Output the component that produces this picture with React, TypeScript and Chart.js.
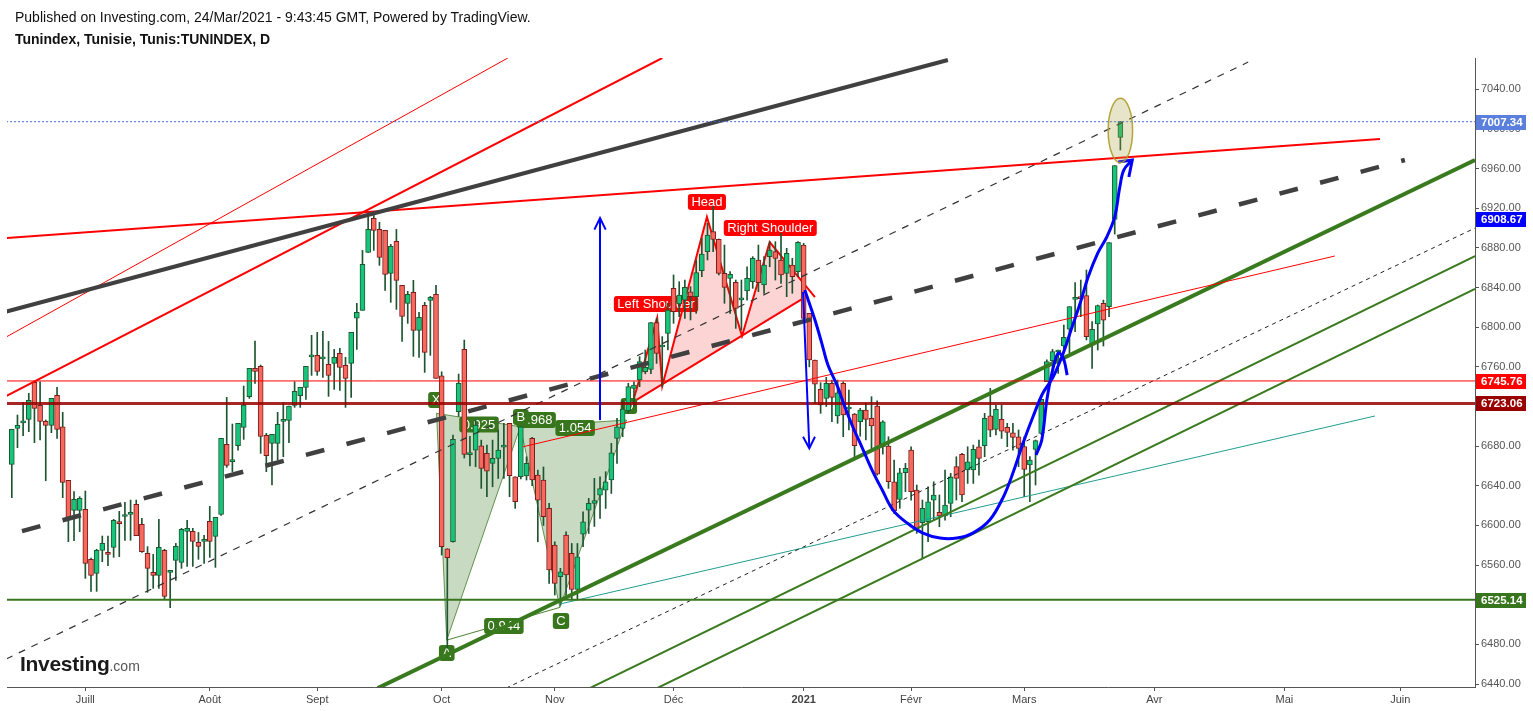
import React, { useEffect, useRef } from 'react';
import { Chart, registerables } from 'chart.js';
Chart.register(...registerables);

const FONT = 'Arial, "Liberation Sans", sans-serif';

// ---- Candles (bar index, daily) ----
const OPEN = [
  6661.6, 6698, 6703.5, 6707, 6744.4, 6721.2, 6705, 6701, 6731.2, 6699.6,
  6645.5, 6615.2, 6615.2, 6616.2, 6565.8, 6551.7, 6574.9, 6572.5, 6577.9, 6603.4,
  6609, 6611.2, 6621.3, 6601.1, 6571.8, 6552.7, 6549.6, 6574.9, 6552.7, 6564.8,
  6562.8, 6594, 6594, 6583, 6583.9, 6604.1, 6589, 6611.2, 6681.8, 6664.4,
  6680.5, 6699, 6729.9, 6758.5, 6760.5, 6690.9, 6682.8, 6682.8, 6705, 6706,
  6721.1, 6730.9, 6739.3, 6770, 6771.6, 6768, 6762.5, 6763.5, 6773.6, 6761.5,
  6763.5, 6809, 6817, 6875.5, 6909.8, 6898.7, 6897.7, 6854.3, 6886.6, 6842.2,
  6824.1, 6835.2, 6796.8, 6822, 6827.1, 6833.1, 6751, 6576.5, 6583.5, 6714.7,
  6777.6, 6671.5, 6676, 6680.4, 6672.7, 6662.6, 6667.6, 6679, 6702.9, 6649.1,
  6649.1, 6650, 6687.8, 6650.8, 6645.8, 6617.2, 6580.2, 6548.3, 6590.3, 6571.8,
  6535.4, 6591.3, 6615.5, 6622.2, 6630.6, 6635.6, 6645.8, 6687.8, 6697.9, 6715.8,
  6738.3, 6746.7, 6755.1, 6757.5, 6804.6, 6780, 6793.8, 6839.2, 6823.4, 6827.4,
  6835.8, 6830.8, 6857, 6876.2, 6896.4, 6888.6, 6854.3, 6849.3, 6845.3, 6827.5,
  6836.5, 6845.9, 6867.8, 6842.6, 6871.2, 6876.2, 6867.8, 6854.3, 6862.8, 6856,
  6882.9, 6814, 6766.9, 6737.3, 6728.2, 6743.3, 6710.4, 6743.3, 6717.5, 6712.4,
  6704.6, 6716.4, 6708, 6720.5, 6679.4, 6680.1, 6644.1, 6626.3, 6653.2, 6676.1,
  6635.7, 6602.7, 6603.7, 6625.6, 6613.2, 6609.5, 6622.2, 6659.3, 6671.7, 6655.9,
  6655.9, 6679.4, 6680.4, 6710.7, 6696.9, 6707, 6699, 6693.5, 6689.5, 6679.5,
  6661, 6676.8, 6692.9, 6745, 6766.2, 6775, 6781, 6797.9, 6828.1, 6830.8,
  6831.8, 6782, 6803.2, 6824.1, 6820.7, 6908.8, 6991.5,
];
const HIGH = [
  6697, 6711.4, 6724.2, 6733.3, 6745.7, 6745, 6706.4, 6728.2, 6739.3, 6714.1,
  6645.5, 6634.1, 6629, 6634.7, 6567, 6576, 6589.3, 6589.3, 6606.1, 6614.2,
  6623.3, 6625.6, 6625.6, 6607.1, 6578.6, 6570.8, 6606.1, 6576, 6553.7, 6581.9,
  6597.1, 6605.1, 6597.1, 6593, 6590, 6619.3, 6608.2, 6688, 6729.2, 6702.3,
  6703, 6740.6, 6758.5, 6786, 6761.8, 6692.9, 6691.9, 6714.1, 6723.8, 6720.5,
  6745, 6739.3, 6760.5, 6791.8, 6794.8, 6795.8, 6785.7, 6777.6, 6778.6, 6769.6,
  6794.8, 6824.1, 6877.5, 6914.8, 6912.8, 6905.8, 6897.7, 6883.6, 6898.7, 6842.2,
  6836.2, 6847.3, 6815, 6825.1, 6831.1, 6842.2, 6755, 6576.5, 6691.2, 6752.7,
  6787, 6690, 6706.3, 6686.1, 6681.1, 6686.1, 6696.2, 6703, 6703, 6649.1,
  6699.6, 6669.3, 6688.8, 6655.8, 6659, 6622.2, 6583.5, 6556.7, 6593.6, 6581.8,
  6581.8, 6613.8, 6627.3, 6647.5, 6649.1, 6654.2, 6682.8, 6708, 6726.5, 6743.4,
  6745, 6770.3, 6777, 6804.6, 6809, 6790.5, 6824.1, 6852.7, 6845.9, 6847.6,
  6840.9, 6867.8, 6889.6, 6904.8, 6921.6, 6889, 6882.9, 6856, 6847.6, 6847.6,
  6861, 6871.2, 6882.9, 6871.2, 6886.3, 6886.3, 6894.7, 6879.6, 6869.5, 6886.3,
  6884.6, 6814, 6766.9, 6744, 6749.4, 6746.7, 6746.7, 6745, 6736.6, 6713,
  6718.1, 6723.1, 6729.9, 6725.8, 6705.7, 6689.5, 6666, 6657.6, 6662.6, 6679.4,
  6640.8, 6625.6, 6639, 6644.1, 6630.7, 6655.9, 6652.5, 6669.3, 6672.7, 6679.4,
  6681.1, 6686.2, 6713.1, 6738.3, 6721.5, 6721.5, 6703, 6703, 6696.3, 6689.5,
  6669.4, 6686.2, 6727.2, 6767, 6777.6, 6777, 6802.2, 6820.7, 6844.9, 6847.6,
  6857.7, 6805.6, 6822.4, 6827.4, 6885.3, 6963, 7007.4,
];
const LOW = [
  6628, 6678.4, 6690.5, 6694.6, 6683.5, 6686.2, 6645.1, 6693.6, 6687.9, 6628,
  6583.6, 6584.6, 6593.7, 6546.6, 6533.5, 6533.5, 6563.4, 6559.4, 6567.8, 6568.5,
  6585, 6585, 6589.7, 6572.8, 6532.5, 6536.5, 6536.5, 6525.1, 6517, 6544.6,
  6556.7, 6558.7, 6558.7, 6565.8, 6561.7, 6567.8, 6557.7, 6610, 6658.6, 6654.2,
  6676, 6686.8, 6728.2, 6743.3, 6672.7, 6654.2, 6641, 6666, 6669.3, 6683.5,
  6719.1, 6719.1, 6727.2, 6751.4, 6751.4, 6749.4, 6730.2, 6737.3, 6736.3, 6719.1,
  6729.2, 6777.6, 6817, 6875.5, 6877.5, 6862.4, 6837.2, 6825.1, 6818, 6785.7,
  6803.9, 6770.6, 6769.6, 6754.4, 6771.6, 6748.4, 6570.1, 6476, 6583, 6710,
  6668, 6660, 6659.2, 6637.4, 6629, 6639, 6647.4, 6647.4, 6629, 6617.2,
  6647, 6645.8, 6640, 6583.5, 6600, 6541.5, 6529.8, 6519.7, 6528.1, 6524.7,
  6524.7, 6578.5, 6591.9, 6599, 6607.1, 6617.2, 6632.3, 6662.6, 6689.5, 6713,
  6720, 6740, 6753, 6753, 6763.5, 6740, 6777, 6803.9, 6810.6, 6808.9,
  6807.3, 6814, 6851, 6867.8, 6876.2, 6852.7, 6824.1, 6814, 6798.8, 6797,
  6827.4, 6839.2, 6835.8, 6834.2, 6861, 6847.6, 6844.2, 6830.8, 6834.2, 6851,
  6807, 6760, 6723.1, 6713.1, 6720, 6704.6, 6703, 6689.5, 6696.3, 6669.3,
  6690, 6686.2, 6676.1, 6650.8, 6672, 6637.4, 6612.2, 6617.2, 6634, 6625.6,
  6592, 6566.8, 6583.6, 6605.4, 6598.7, 6605.4, 6608.8, 6625.6, 6623.9, 6642.4,
  6642.4, 6650.8, 6669.3, 6689.5, 6691.2, 6687.8, 6679.5, 6676, 6659.3, 6629,
  6624, 6640.8, 6692, 6745, 6753.4, 6753.4, 6773.6, 6773.6, 6795.5, 6810.6,
  6787.1, 6758.5, 6777, 6781, 6810.6, 6894, 6978.8,
];
const CLOSE = [
  6696.9, 6701, 6704, 6726.2, 6718.1, 6705, 6701, 6728.2, 6696.9, 6643.5,
  6608.2, 6626.3, 6627.3, 6561.7, 6549.6, 6574.9, 6581.9, 6570.8, 6605.1, 6601.8,
  6609.4, 6613.2, 6589.7, 6573.5, 6556.7, 6549.6, 6577.9, 6528.5, 6553, 6578.9,
  6596.1, 6597.1, 6583.9, 6578.9, 6584.2, 6583.9, 6608.2, 6687.9, 6660.6, 6664.8,
  6703, 6721.5, 6758.5, 6755.4, 6689.9, 6670.3, 6691.9, 6702, 6706.2, 6720.5,
  6735.3, 6739.3, 6760.5, 6770.3, 6755.4, 6768.3, 6751.4, 6769.6, 6759.5, 6748.4,
  6794.8, 6815, 6863.4, 6898.7, 6897.7, 6870.5, 6853.3, 6881.6, 6847.3, 6810.9,
  6833.1, 6796.8, 6809.9, 6774.6, 6830.1, 6748.4, 6578.5, 6567.4, 6686.8, 6743.3,
  6671.7, 6672, 6701.3, 6657.5, 6654.8, 6667.7, 6676, 6680.1, 6650.1, 6623.9,
  6699.6, 6662.6, 6645.8, 6625.6, 6608.8, 6555, 6541.5, 6553.3, 6550, 6535.4,
  6568.4, 6603.7, 6622.2, 6625, 6637.3, 6644.1, 6673.3, 6699.6, 6717.4, 6740,
  6741.7, 6765.2, 6759.5, 6804.6, 6773.6, 6782, 6817.3, 6815.7, 6832.5, 6840.2,
  6830.8, 6855, 6873.8, 6893, 6888.6, 6854.3, 6840.2, 6853.3, 6819, 6829.1,
  6849.3, 6869.5, 6844.9, 6862.8, 6877.9, 6869.5, 6852.7, 6874.5, 6851, 6885.6,
  6808.9, 6767, 6742.6, 6721.5, 6743.3, 6729.2, 6733.9, 6711.4, 6718.1, 6680.4,
  6716.4, 6707, 6700.3, 6651.8, 6704.6, 6644.1, 6614.9, 6653.2, 6657.6, 6634,
  6596, 6617.2, 6623.9, 6630.7, 6609.5, 6620.6, 6649.1, 6647.5, 6630.7, 6664.3,
  6676.8, 6667.7, 6708, 6696.2, 6717.1, 6695.2, 6693.9, 6688.8, 6677.8, 6656.6,
  6666, 6685.5, 6727.2, 6765.2, 6775.3, 6776.5, 6789.8, 6820.7, 6830.1, 6828.8,
  6790.5, 6797.9, 6821.7, 6807.2, 6885.3, 6963, 7007.34,
];

// ---- Axis ticks ----
const MONTH_TICKS = [13, 35, 54, 76, 96, 117, 140, 159, 179, 202, 225, 245.5];
const MONTH_LABELS = ['Juill', 'Août', 'Sept', 'Oct', 'Nov', 'Déc', '2021', 'Févr', 'Mars', 'Avr', 'Mai', 'Juin'];
const Y_TICKS = [6440, 6480, 6520, 6560, 6600, 6640, 6680, 6720, 6760, 6800, 6840, 6880, 6920, 6960, 7000, 7040];

// ---- Price tags on the right axis ----
const PRICE_TAGS = [7007.34, 6908.67, 6745.76, 6723.06, 6525.14];
const PRICE_TAG_COLORS = ['#5b7fdc', '#0000ff', '#ff0000', '#990000', '#38761d'];

// ---- Trend lines: [barIndex, price] ----
const TL_DARK = [[-1, 6815.8], [165.5, 7069.6]];
const TL_RED_THICK = [[-1, 6730.5], [115.0, 7071.6]];
const TL_RED_THIN_STEEP = [[-1, 6790.1], [87.7, 7071.6]];
const TL_RED_RESIST = [[-1, 6889.9], [241.9, 6989.8]];
const TL_RED_THIN = [[90.4, 6679.4], [233.9, 6871.8]];
const TL_DASH_THICK = [[1.8, 6594.3], [246.3, 6968.7]];
const TL_DASH_UPPER = [[-1, 6465.3], [218.6, 7067.5]];
const TL_DASH_LOWER = [[87.4, 6435.9], [258.7, 6900]];
const TL_GREEN_THICK = [[64.7, 6435.9], [258.7, 6968.7]];
const TL_GREEN_A = [[102.2, 6435.9], [258.7, 6871.8]];
const TL_GREEN_B = [[114.1, 6435.9], [258.7, 6838.7]];
const TL_TEAL = [[96.9, 6520.7], [241.0, 6710.4]];
const H_LAST = [[-1, 7007.34], [260, 7007.34]];
const H_RED = [[-1, 6745.76], [260, 6745.76]];
const H_DARKRED = [[-1, 6723.06], [260, 6723.06]];
const H_GREEN = [[-1, 6525.14], [260, 6525.14]];

// ---- XABCD pattern ----
const XABCD = [[75.1, 6713.1], [76.9, 6484.3], [89.9, 6699.6], [96.9, 6517.3], [108.7, 6706.3]];
const XABCD_POINT_LABELS = ['X', 'A', 'B', 'C', 'D'];
const XABCD_POINT_POS = [[75.0, 6726.5], [76.9, 6471.2], [90.0, 6709.4], [97.1, 6503.5], [109.1, 6720.4]];
const XABCD_RATIO_LABELS = ['0.925', '0.968', '1.054', '0.944'];
const XABCD_RATIO_POS = [[82.6, 6701.8], [92.7, 6706.3], [99.6, 6698.2], [87.0, 6498.5]];

// ---- Head & shoulders ----
const HS_ZIGZAG = [[109.8, 6724.5], [114.1, 6809.2], [115.0, 6740.6], [122.9, 6911.1], [129.1, 6791.1], [134.0, 6885.9], [142.0, 6830.4]];
const HS_NECK = [[109.8, 6724.5], [139.7, 6828.4]];
const HS_AREA = [[109.8, 6724.5], [114.1, 6809.2], [115.0, 6740.6], [122.9, 6911.1], [129.1, 6791.1], [134.0, 6885.9], [139.7, 6845.6], [139.7, 6828.4], [109.8, 6724.5]];
const HS_LABELS = ['Left Shoulder', 'Head', 'Right Shoulder'];
const HS_LABEL_POS = [[113.9, 6823.4], [122.9, 6926.3], [134.1, 6900]];

// ---- Blue drawings ----
const ARROW_UP = [[104.0, 6706.3], [104.0, 6910.1]];
const ARROW_UP_HEAD = [[103.0, 6898.5], [104.0, 6910.1], [105.0, 6898.5]];
const ARROW_DOWN = [[139.9, 6835.5], [141.0, 6679.1]];
const ARROW_DOWN_HEAD = [[139.9, 6689.5], [141.0, 6677.8], [142.0, 6689.5]];
const CUP_PATH = [
  [140.2, 6837.5], [142.0, 6807.2], [143.2, 6784.0], [144.3, 6761.8], [145.9, 6741.6], [147.3, 6719.4],
  [148.7, 6699.3], [150.3, 6679.1], [152.1, 6655.9], [153.9, 6635.7], [155.8, 6615.5], [158.3, 6602.4],
  [161.1, 6592.3], [164.1, 6587.3], [167.1, 6587.3], [169.9, 6592.3], [172.9, 6605.4], [175.3, 6628.6],
  [177.0, 6652.8], [178.8, 6683.1], [180.6, 6710.4], [182.3, 6733.6], [184.1, 6749.7], [185.9, 6773.9],
  [187.1, 6794.1], [188.9, 6824.4], [190.3, 6850.6], [192.0, 6874.8], [193.6, 6891.0], [195.0, 6911.2],
  [195.9, 6941.4], [196.6, 6958.6], [198.1, 6968.7],
];
const CUP_HEAD = [[195.6, 6966.6], [198.1, 6968.7], [197.5, 6951.5]];
const HOOK_PATH = [[181.1, 6671], [182.1, 6686.2], [183.0, 6726.5], [183.9, 6753.7], [185.0, 6773.9], [185.9, 6768.9], [186.6, 6751.7]];
const ELLIPSE_CENTER = [196.0, 6998.4];
const ELLIPSE_RADII = [2.16, 32.5];

const pts = (a: number[][]) => a.map(([x, y]) => ({ x, y }));

function line(label: string, data: number[][], color: string, width: number, extra: any = {}) {
  return {
    type: 'line', label, data: pts(data), borderColor: color, borderWidth: width,
    pointRadius: 0, fill: false, tension: 0, order: 10, ...extra,
  };
}

function tag(ctx: CanvasRenderingContext2D, text: string, cx: number, cy: number, bg: string) {
  ctx.font = `13px ${FONT}`;
  const w = ctx.measureText(text).width + 7;
  const h = 16;
  ctx.fillStyle = bg;
  ctx.beginPath();
  (ctx as any).roundRect(cx - w / 2, cy - h / 2, w, h, 3);
  ctx.fill();
  ctx.fillStyle = '#ffffff';
  ctx.textAlign = 'center';
  ctx.textBaseline = 'middle';
  ctx.fillText(text, cx, cy + 0.5);
}

const patternLabels = {
  id: 'patternLabels',
  beforeDatasetDraw(chart: any, args: any) {
    if (chart.data.datasets[args.index].label !== 'wicks') return;
    const { ctx, scales: { x, y } } = chart;
    ctx.save();
    XABCD_RATIO_LABELS.forEach((t, i) => tag(ctx, t, x.getPixelForValue(XABCD_RATIO_POS[i][0]), y.getPixelForValue(XABCD_RATIO_POS[i][1]), '#38761d'));
    XABCD_POINT_LABELS.forEach((t, i) => tag(ctx, t, x.getPixelForValue(XABCD_POINT_POS[i][0]), y.getPixelForValue(XABCD_POINT_POS[i][1]), '#38761d'));
    HS_LABELS.forEach((t, i) => tag(ctx, t, x.getPixelForValue(HS_LABEL_POS[i][0]), y.getPixelForValue(HS_LABEL_POS[i][1]), '#ff0000'));
    ctx.restore();
  },
};

const overlay = {
  id: 'overlay',
  afterDatasetsDraw(chart: any) {
    const { ctx, scales: { x, y } } = chart;
    const cx = x.getPixelForValue(ELLIPSE_CENTER[0]);
    const cy = y.getPixelForValue(ELLIPSE_CENTER[1]);
    const rx = Math.abs(x.getPixelForValue(ELLIPSE_CENTER[0] + ELLIPSE_RADII[0]) - cx);
    const ry = Math.abs(y.getPixelForValue(ELLIPSE_CENTER[1] + ELLIPSE_RADII[1]) - cy);
    ctx.save();
    ctx.beginPath();
    ctx.ellipse(cx, cy, rx, ry, 0, 0, Math.PI * 2);
    ctx.fillStyle = 'rgba(170,160,60,0.28)';
    ctx.fill();
    ctx.strokeStyle = 'rgba(175,155,40,0.9)';
    ctx.lineWidth = 1.5;
    ctx.stroke();
    ctx.restore();
  },
  afterDraw(chart: any) {
    const { ctx, scales: { y }, chartArea } = chart;
    ctx.save();
    PRICE_TAGS.forEach((v, i) => {
      const py = Math.round(y.getPixelForValue(v));
      ctx.fillStyle = PRICE_TAG_COLORS[i];
      ctx.fillRect(chartArea.right + 1, py - 7, 50, 15);
      ctx.fillStyle = '#ffffff';
      ctx.font = `bold 11.5px ${FONT}`;
      ctx.textAlign = 'left';
      ctx.textBaseline = 'middle';
      ctx.fillText(v.toFixed(2), chartArea.right + 6, py + 1);
    });
    ctx.restore();
  },
};

export default function App() {
  const ref = useRef<HTMLCanvasElement>(null);
  useEffect(() => {
    const up = OPEN.map((o, i) => CLOSE[i] >= o);
    const datasets: any[] = [
      // patterns (below candles)
      line('hsArea', HS_AREA, 'rgba(0,0,0,0)', 0, { fill: 'shape', backgroundColor: 'rgba(242,60,60,0.22)', order: 40 }),
      line('xab', [XABCD[0], XABCD[1], XABCD[2], XABCD[0]], 'rgba(56,118,29,0.75)', 1, { fill: 'shape', backgroundColor: 'rgba(56,118,29,0.27)', order: 40 }),
      line('bcd', [XABCD[2], XABCD[3], XABCD[4], XABCD[2]], 'rgba(56,118,29,0.75)', 1, { fill: 'shape', backgroundColor: 'rgba(56,118,29,0.27)', order: 40 }),
      line('ac', [XABCD[1], XABCD[3]], 'rgba(56,118,29,0.9)', 1, { order: 39 }),
      line('hsZig', HS_ZIGZAG, '#ff0000', 2, { order: 39 }),
      line('hsNeck', HS_NECK, '#ff0000', 2, { order: 39 }),
      // candles
      {
        type: 'bar', label: 'wicks', data: OPEN.map((_, i) => ({ x: i, y: [LOW[i], HIGH[i]] })),
        backgroundColor: '#1d5530', borderWidth: 0, barThickness: 1, grouped: false, order: 30,
      },
      {
        type: 'bar', label: 'bodies', data: OPEN.map((o, i) => ({ x: i, y: [o, CLOSE[i]] })),
        backgroundColor: up.map((u) => (u ? '#16c47b' : '#f7695c')),
        borderColor: up.map((u) => (u ? '#1b5a2e' : '#7a1c1c')),
        borderWidth: 1, borderSkipped: false, barThickness: 5, minBarLength: 2, grouped: false, order: 29,
      },
      // trend / horizontal lines (above candles)
      line('hDarkRed', H_DARKRED, 'rgba(150,0,0,0.85)', 3),
      line('hRed', H_RED, '#ff0000', 1),
      line('hGreen', H_GREEN, '#38761d', 2),
      line('hLast', H_LAST, '#3e63dd', 1, { borderDash: [2, 2] }),
      line('dark', TL_DARK, '#404040', 4),
      line('redThick', TL_RED_THICK, '#ff0000', 2),
      line('redSteep', TL_RED_THIN_STEEP, '#ff0000', 1),
      line('redResist', TL_RED_RESIST, '#ff0000', 2),
      line('redThin', TL_RED_THIN, '#ff0000', 1),
      line('dashThick', TL_DASH_THICK, '#404040', 4.5, { borderDash: [19, 23] }),
      line('dashUpper', TL_DASH_UPPER, '#333333', 1.2, { borderDash: [7, 7] }),
      line('dashLower', TL_DASH_LOWER, '#222222', 1, { borderDash: [4, 4] }),
      line('greenThick', TL_GREEN_THICK, '#3a7a1e', 4),
      line('greenA', TL_GREEN_A, '#3a7a1e', 2),
      line('greenB', TL_GREEN_B, '#3a7a1e', 2),
      line('teal', TL_TEAL, '#1f9e8f', 1),
      // blue drawings
      line('arrowUp', ARROW_UP, '#0000ff', 2, { order: 5 }),
      line('arrowUpHead', ARROW_UP_HEAD, '#0000ff', 2, { order: 5 }),
      line('arrowDown', ARROW_DOWN, '#0000ff', 2, { order: 5 }),
      line('arrowDownHead', ARROW_DOWN_HEAD, '#0000ff', 2, { order: 5 }),
      line('cup', CUP_PATH, '#0000ff', 3, { tension: 0.35, order: 5 }),
      line('cupHead', CUP_HEAD, '#0000ff', 3, { order: 5 }),
      line('hook', HOOK_PATH, '#0000ff', 3, { tension: 0.35, order: 5 }),
    ];

    const chart = new Chart(ref.current as HTMLCanvasElement, {
      type: 'line',
      data: { datasets },
      plugins: [patternLabels, overlay],
      options: {
        animation: false,
        responsive: false,
        devicePixelRatio: 1,
        events: [],
        layout: { padding: { top: 58, left: 7, right: 0, bottom: 0 } },
        plugins: { legend: { display: false }, tooltip: { enabled: false } },
        scales: {
          x: {
            type: 'linear', min: -0.85, max: 258.7, offset: false,
            afterBuildTicks: (s: any) => { s.ticks = MONTH_TICKS.map((v) => ({ value: v })); },
            afterFit: (s: any) => { s.height = 24; },
            ticks: {
              autoSkip: false, maxRotation: 0, padding: 2, color: '#444',
              callback: (_v: any, i: number) => MONTH_LABELS[i],
              font: (c: any) => ({ family: FONT, size: 11, weight: MONTH_LABELS[c.index] === '2021' ? 'bold' : 'normal' }),
            },
            grid: { display: true, drawOnChartArea: false, drawTicks: true, tickLength: 4, color: '#555', offset: false },
            border: { display: true, color: '#555', width: 1 },
          },
          y: {
            type: 'linear', position: 'right', min: 6437, max: 7071.6,
            afterBuildTicks: (s: any) => { s.ticks = Y_TICKS.map((v) => ({ value: v })); },
            afterFit: (s: any) => { s.width = 58; },
            ticks: {
              padding: 2, color: '#555', font: { family: FONT, size: 11 },
              callback: (v: any) => Number(v).toFixed(2),
            },
            grid: { display: true, drawOnChartArea: false, drawTicks: true, tickLength: 4, color: '#555' },
            border: { display: true, color: '#555', width: 1 },
          },
        },
      },
    } as any);
    return () => chart.destroy();
  }, []);

  return (
    <div style={{ position: 'fixed', left: 0, top: 0, width: 1533, height: 711, background: '#fff', overflow: 'hidden' }}>
      <canvas ref={ref} width={1533} height={711} style={{ position: 'absolute', left: 0, top: 0, width: 1533, height: 711 }} />
      <div style={{ position: 'absolute', left: 15, top: 9, font: `14px ${FONT}`, color: '#111', whiteSpace: 'nowrap' }}>
        Published on Investing.com, 24/Mar/2021 - 9:43:45 GMT, Powered by TradingView.
      </div>
      <div style={{ position: 'absolute', left: 15, top: 31, font: `bold 14px ${FONT}`, color: '#111', whiteSpace: 'nowrap' }}>
        Tunindex, Tunisie, Tunis:TUNINDEX, D
      </div>
      <div style={{ position: 'absolute', left: 20, top: 653, lineHeight: 1, whiteSpace: 'nowrap', fontFamily: FONT }}>
        <span style={{ fontSize: 21, fontWeight: 'bold', color: '#1a1a1a', letterSpacing: -0.3 }}>Investing</span>
        <span style={{ fontSize: 14, color: '#555' }}>.com</span>
      </div>
    </div>
  );
}
